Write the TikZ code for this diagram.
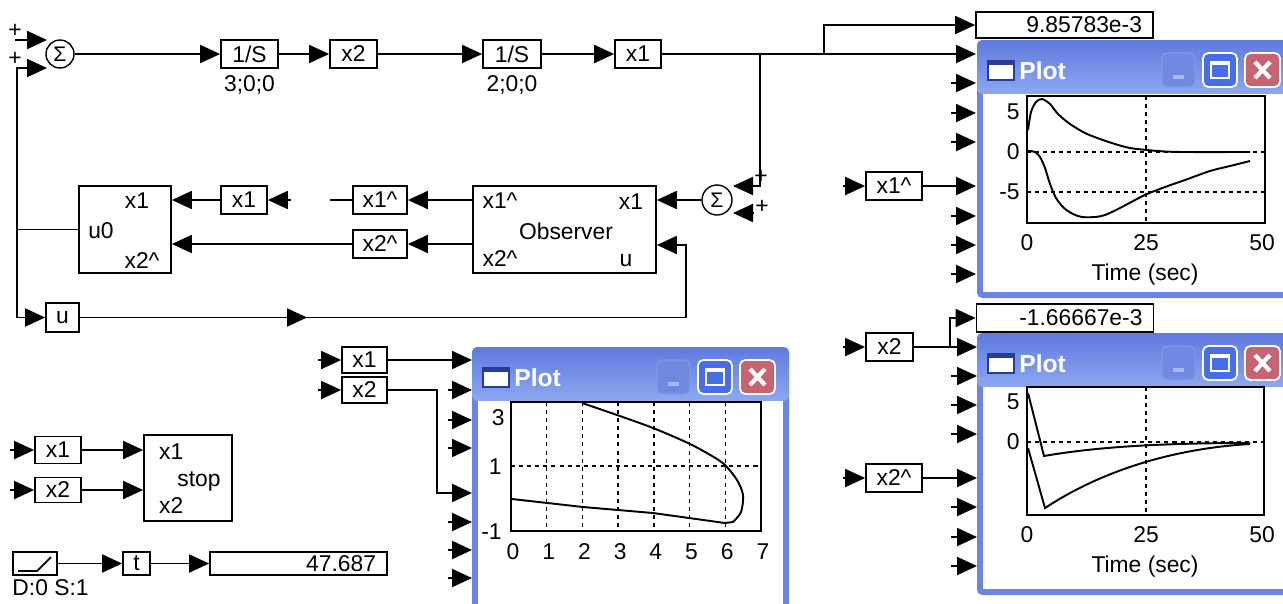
\documentclass[tikz,border=0pt]{standalone}
\usepackage{fontspec}
\setmainfont{Liberation Sans}
\usetikzlibrary{arrows.meta,positioning}

\definecolor{winblue}{RGB}{108,132,228}
\definecolor{titletop}{RGB}{96,122,222}
\definecolor{titlebot}{RGB}{140,168,240}
\definecolor{btnblue}{RGB}{72,110,230}
\definecolor{btnfade}{RGB}{112,138,228}
\definecolor{btnred}{RGB}{198,100,114}
\definecolor{icondark}{RGB}{40,60,150}

% plot window: left, top, height, name
\newcommand\plotwin[4]{%
  \begin{scope}[shift={(#1,#2)}]
    \fill[winblue, rounded corners=3pt] (0,0) rectangle (317,#3);
    \shade[top color=titletop, bottom color=titlebot, rounded corners=3pt] (0,0) rectangle (317,54);
    \fill[white] (6,54) rectangle (311,#3-6);
    \draw[line width=0.8pt, fill=white, draw=icondark] (11,21) rectangle (37,40);
    \fill[icondark] (11,21) rectangle (37,25);
    \node[wintitle, anchor=west] (#4title) at (42,31) {Plot};
    \draw[btnfade!80!white, fill=btnfade, rounded corners=3pt] (185,13) rectangle (218,47);
    \fill[btnfade!60!white] (196,35) rectangle (207,39);
    \draw[white, line width=1pt, fill=btnblue, rounded corners=3pt] (226,13) rectangle (260,47);
    \draw[white, line width=1.2pt] (234,22) rectangle (252,38);
    \fill[white] (234,22) rectangle (252,25);
    \draw[white, line width=1pt, fill=btnred, rounded corners=3pt] (268,13) rectangle (303,47);
    \draw[white, line width=2.4pt] (278,22) -- (293,38) (293,22) -- (278,38);
  \end{scope}}

\begin{document}
\begin{tikzpicture}[x=0.02cm, y=-0.02cm, font=\fontsize{13}{15}\selectfont,
    blk/.style={draw, line width=1pt, inner sep=0pt, minimum height=0.56cm},
    disp/.style={draw, line width=1pt, minimum height=0.52cm, text width=3.1cm,
      align=right, inner xsep=0.22cm, inner ysep=0pt},
    sumnode/.style={draw, circle, line width=0.8pt, minimum size=0.56cm, inner sep=0pt,
      font=\fontsize{12}{12}\selectfont},
    sig/.style={line width=1.1pt, -{Triangle[length=0.4cm, width=0.36cm]}},
    wire/.style={line width=1.1pt},
    grid/.style={line width=0.8pt, dash pattern=on 2.3pt off 2.3pt},
    curve/.style={line width=1.1pt},
    tick/.style={inner sep=0pt},
    pl/.style={inner sep=0pt, font=\fontsize{13}{13}\selectfont},
    wintitle/.style={inner sep=0pt, text=white, font=\fontsize{14}{15}\selectfont\bfseries}]
  \useasboundingbox (0,0) rectangle (1283,603);
  \clip (0,0) rectangle (1283,603);
  \fill[white] (0,0) rectangle (1283,603);

  % plant
  \node[sumnode] (sumA) at (60,54) {Σ};
  \coordinate (sA1) at (47,40);
  \coordinate (sA2) at (47,68);
  \node[pl] (plA1) at (15,31) {+};
  \node[pl] (plA2) at (15,59) {+};
  \node[blk, minimum width=1.14cm] (int1) at (249.5,54) {1/S};
  \node[below=0pt of int1] (int1par) {3;0;0};
  \node[blk, minimum width=0.94cm] (x2top) at (353.5,54) {x2};
  \node[blk, minimum width=1.16cm] (int2) at (512,54) {1/S};
  \node[below=0pt of int2] (int2par) {2;0;0};
  \node[blk, minimum width=0.92cm] (x1top) at (638,54) {x1};
  \node[disp] (dispA) at (1064.5,25) {9.85783e-3};

  \draw[sig] (15,40) -- (sA1);
  \draw[sig] (sumA) -- (int1);
  \draw[sig] (int1) -- (x2top);
  \draw[sig] (x2top) -- (int2);
  \draw[sig] (int2) -- (x1top);
  \coordinate (p1in1) at (976,54);
  \draw[sig] (x1top) -- (p1in1);
  \draw[sig] (824,54) |- (dispA);

  % observer
  \node[sumnode, minimum size=0.6cm] (sumB) at (717,200) {Σ};
  \coordinate (sB1) at (733,186);
  \coordinate (sB2) at (733,213);
  \node[pl] (plB1) at (761,177) {+};
  \node[pl] (plB2) at (762,207) {+};
  \draw[sig] (760,54) |- (sB1);
  \draw[sig] (754,213) -- (sB2);

  \node[blk, minimum width=3.66cm, minimum height=1.74cm] (obs) at (564.5,229.5) {};
  \node (obsl1) at (500,201) {x1\textasciicircum};
  \node (obsl2) at (631,202) {x1};
  \node (obsl3) at (566,231) {Observer};
  \node (obsl4) at (500,259) {x2\textasciicircum};
  \node (obsl5) at (626,261) {u};
  \coordinate (obsu) at (obs.east |- 0,245);
  \draw[sig] (sumB) -- (sumB -| obs.east);

  \node[blk, minimum width=1.08cm] (x1hat) at (380,200) {x1\textasciicircum};
  \node[blk, minimum width=1.08cm] (x2hat) at (380,244) {x2\textasciicircum};
  \node[blk, minimum width=0.92cm] (x1mid) at (244,200) {x1};
  \coordinate (x1hatend) at (330,200);
  \coordinate (x1midin) at (291,200);
  \draw[sig] (obs.west |- x1hat) -- (x1hat);
  \draw[wire] (x1hat) -- (x1hatend);
  \draw[sig] (x1midin) -- (x1mid);
  \draw[sig] (obs.west |- x2hat) -- (x2hat);

  % control law
  \node[blk, minimum width=1.84cm, minimum height=1.74cm] (ctrl) at (125,229.5) {};
  \node (ctrll1) at (137,201) {x1};
  \node (ctrll2) at (101,231) {u0};
  \node (ctrll3) at (142,261) {x2\textasciicircum};
  \draw[sig] (x1mid) -- (x1mid -| ctrl.east);
  \draw[sig] (x2hat) -- (x2hat -| ctrl.east);
  \coordinate (jL) at (17,229.5);
  \draw[wire] (ctrl.west) -- (jL);
  \draw[sig] (jL) |- (sA2);
  \node[blk, minimum width=0.66cm, minimum height=0.58cm] (ubox) at (62.5,317.5) {u};
  \draw[sig] (jL) |- (ubox);
  \coordinate (umid) at (307,317.5);
  \draw[sig] (ubox) -- (umid);
  \draw[sig] (ubox) -| (686,245) -- (obsu);

  % plot windows
  \plotwin{977}{40}{258}{winA}
  \plotwin{977}{333}{262}{winB}
  \plotwin{472}{347}{280}{winC}

  % plot 1
  \draw[line width=1pt] (1027,96) rectangle (1265,223);
  \draw[grid] (1027,152) -- (1265,152) (1027,192) -- (1265,192) (1146,96) -- (1146,223);
  \foreach \v/\yy in {5/112,0/152,-5/192}
    \node[tick, anchor=east] (p1y\yy) at (1020,\yy) {\v};
  \foreach \t/\xx in {0/1027,25/1146,50/1262}
    \node[tick] (p1t\t) at (\xx,243) {\t};
  \node[tick] (p1time) at (1145,275) {Time (sec)};
  \draw[curve] plot[smooth] coordinates {(1028,130) (1031,112) (1036,102) (1042,99)
    (1050,104) (1058,114) (1070,124) (1085,133) (1100,139) (1115,144) (1130,148)
    (1147,150) (1165,151.5) (1185,152) (1250,152)};
  \draw[curve] plot[smooth] coordinates {(1028,151) (1035,152) (1040,157) (1045,168)
    (1050,184) (1056,198) (1064,208) (1073,214) (1082,217) (1095,217) (1105,215)
    (1120,208) (1135,200) (1147,194) (1165,187) (1185,180) (1210,171) (1230,166) (1250,161)};

  \node[blk, minimum width=1.12cm] (x1R) at (894,186) {x1\textasciicircum};
  \coordinate (p1in5) at (976,186);
  \draw[sig] (843,186) -- (x1R);
  \draw[sig] (x1R) -- (p1in5);
  \foreach \y in {83,113,142,216,245,274}
    \draw[sig] (951,\y) -- (976,\y);

  % plot 2
  \node[disp, minimum height=0.56cm] (dispB) at (1065,318) {-1.66667e-3};
  \draw[line width=1pt] (1027,387) rectangle (1264,515);
  \draw[grid] (1027,442) -- (1264,442) (1146,387) -- (1146,515);
  \foreach \v/\yy in {5/402,0/442}
    \node[tick, anchor=east] (p2y\yy) at (1020,\yy) {\v};
  \foreach \t/\xx in {0/1027,25/1146,50/1262}
    \node[tick] (p2t\t) at (\xx,535) {\t};
  \node[tick] (p2time) at (1145,567) {Time (sec)};
  \draw[curve] (1028,393) -- (1044,456) .. controls (1090,448) and (1150,443) .. (1250,443);
  \draw[curve] (1028,448) -- (1045,508) .. controls (1095,475) and (1165,449) .. (1250,444);

  \node[blk, minimum width=0.94cm] (x2R) at (889.5,347) {x2};
  \node[blk, minimum width=1.12cm] (x2hR) at (894,478) {x2\textasciicircum};
  \coordinate (p2in1) at (977,347);
  \coordinate (p2in5) at (977,478);
  \draw[sig] (843,347) -- (x2R);
  \draw[sig] (x2R) -- (p2in1);
  \draw[sig] (950,347) |- (dispB);
  \draw[sig] (843,478) -- (x2hR);
  \draw[sig] (x2hR) -- (p2in5);
  \foreach \y in {376,405,434,507,537,566}
    \draw[sig] (951,\y) -- (977,\y);

  % plot 3
  \draw[line width=1pt] (511,402) rectangle (761,531);
  \foreach \k in {1,...,6}
    \draw[grid] ({511+35.7*\k},402) -- ({511+35.7*\k},531);
  \draw[grid] (511,466) -- (761,466);
  \foreach \k in {0,...,7}
    \node[tick] (p3x\k) at ({513+35.7*\k},552) {\k};
  \node[tick, anchor=east] (p3y3) at (505,418) {3};
  \node[tick, anchor=east] (p3y1) at (502,467) {1};
  \node[tick, anchor=east] (p3ym) at (502,532) {-1};
  \draw[curve] plot[smooth] coordinates {(582,403) (617,415) (653,428) (688,443)
    (712,456) (725,465) (737,480) (743,495) (741,512) (733,522)}
    -- (725,523) -- (653,513) -- (583,507) -- (512,499);

  \node[blk, minimum width=0.9cm, minimum height=0.52cm] (x1M) at (364.5,360) {x1};
  \node[blk, minimum width=0.9cm, minimum height=0.52cm] (x2M) at (364.5,390) {x2};
  \coordinate (p3in1) at (472,360);
  \coordinate (p3in5) at (472,493);
  \draw[sig] (318,360) -- (x1M);
  \draw[sig] (318,390) -- (x2M);
  \draw[sig] (x1M) -- (p3in1);
  \draw[sig] (x2M) -| (437,493) -- (p3in5);
  \foreach \y in {390,420,448,522,550,578}
    \draw[sig] (448,\y) -- (472,\y);

  % stop and clock
  \node[blk, minimum width=0.92cm, minimum height=0.54cm] (x1S) at (58,450) {x1};
  \node[blk, minimum width=0.92cm, minimum height=0.5cm] (x2S) at (58,490) {x2};
  \node[blk, minimum width=1.76cm, minimum height=1.72cm] (stop) at (188,478) {};
  \node[anchor=west] (stopl1) at (153,452) {x1};
  \node (stopl2) at (199,481) {stop};
  \node[anchor=west] (stopl3) at (153,506) {x2};
  \draw[sig] (10,450) -- (x1S);
  \draw[sig] (10,490) -- (x2S);
  \draw[sig] (x1S) -- (x1S -| stop.west);
  \draw[sig] (x2S) -- (x2S -| stop.west);

  \node[blk, minimum width=0.88cm, minimum height=0.46cm] (ramp) at (35,563.5) {};
  \draw[line width=1pt] (18,571) -- (37,571) -- (51,557);
  \node[anchor=north west, inner sep=0pt] (ramppar) at ([yshift=-2pt]ramp.south west) {D:0 S:1};
  \node[blk, minimum width=0.54cm, minimum height=0.46cm] (tbox) at (136.5,563.5) {t};
  \node[disp, minimum height=0.46cm] (dispC) at (298.5,563.5) {47.687};
  \draw[sig] (ramp) -- (tbox);
  \draw[sig] (tbox) -- (dispC);
\end{tikzpicture}
\end{document}
